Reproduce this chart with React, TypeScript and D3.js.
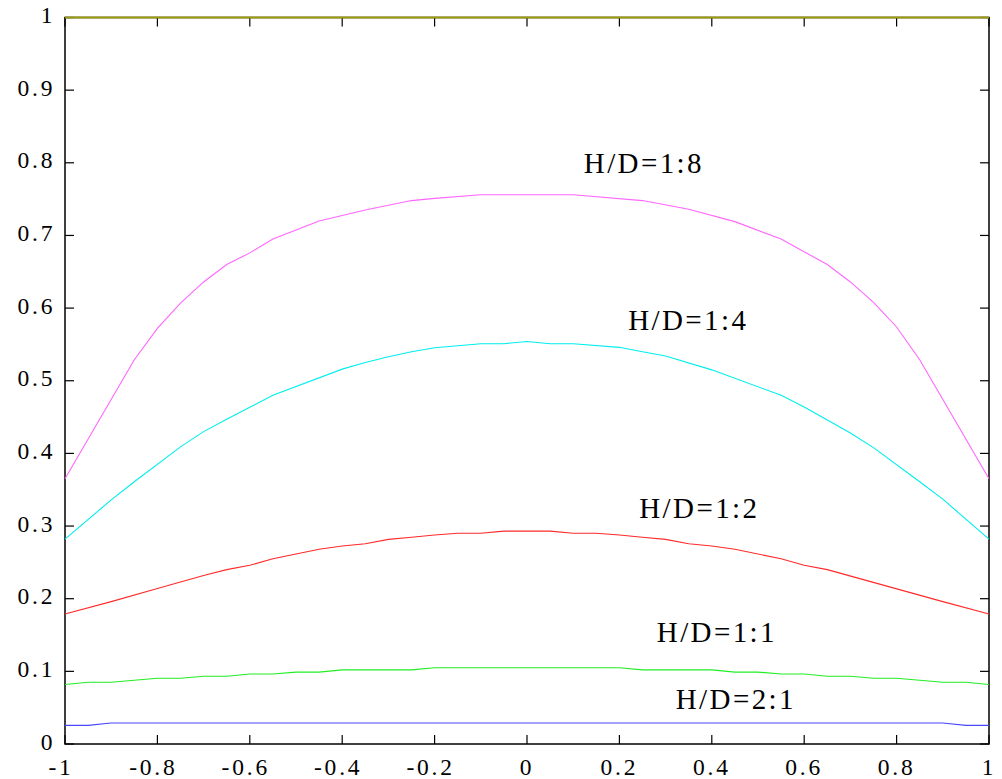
import React, { useEffect } from "react";
import * as d3 from "d3";

const W = 1002;
const H = 779;

const xTicks = [-1, -0.8, -0.6, -0.4, -0.2, 0, 0.2, 0.4, 0.6, 0.8, 1];
const yTicks = [0, 0.1, 0.2, 0.3, 0.4, 0.5, 0.6, 0.7, 0.8, 0.9, 1];
const xTickLabels = ["-1", "-0.8", "-0.6", "-0.4", "-0.2", "0", "0.2", "0.4", "0.6", "0.8", "1"];
const yTickLabels = ["0", "0.1", "0.2", "0.3", "0.4", "0.5", "0.6", "0.7", "0.8", "0.9", "1"];

const seriesNames = ["H/D=1:8", "H/D=1:4", "H/D=1:2", "H/D=1:1", "H/D=2:1", "top"];

const x18 = [-1, -0.85, -0.8, -0.75, -0.7, -0.65, -0.6, -0.55, -0.45, -0.35, -0.25, -0.2, -0.1, 0, 0.1, 0.25, 0.35, 0.45, 0.55, 0.65, 0.7, 0.75, 0.8, 0.85, 1];
const y18 = [0.365, 0.529, 0.572, 0.607, 0.636, 0.66, 0.676, 0.695, 0.72, 0.735, 0.748, 0.751, 0.756, 0.756, 0.756, 0.748, 0.736, 0.719, 0.695, 0.66, 0.636, 0.608, 0.574, 0.529, 0.365];

const x14 = [-1, -0.9, -0.85, -0.75, -0.7, -0.65, -0.6, -0.55, -0.4, -0.35, -0.3, -0.25, -0.2, -0.1, -0.05, 0, 0.05, 0.1, 0.2, 0.25, 0.3, 0.4, 0.55, 0.6, 0.7, 0.75, 0.85, 0.9, 1];
const y14 = [0.282, 0.336, 0.361, 0.409, 0.43, 0.447, 0.4635, 0.48, 0.516, 0.525, 0.533, 0.54, 0.5455, 0.551, 0.551, 0.554, 0.551, 0.551, 0.546, 0.54, 0.534, 0.515, 0.48, 0.464, 0.428, 0.408, 0.361, 0.337, 0.282];

const x12 = [-1, -0.9, -0.8, -0.7, -0.65, -0.6, -0.55, -0.45, -0.4, -0.35, -0.3, -0.25, -0.2, -0.15, -0.1, -0.05, 0, 0.05, 0.1, 0.15, 0.2, 0.25, 0.3, 0.35, 0.4, 0.45, 0.55, 0.6, 0.65, 0.9, 1];
const y12 = [0.179, 0.196, 0.214, 0.232, 0.24, 0.246, 0.255, 0.268, 0.2725, 0.2757, 0.2817, 0.2845, 0.2877, 0.29, 0.29, 0.293, 0.293, 0.293, 0.29, 0.29, 0.2877, 0.2845, 0.2817, 0.2757, 0.2725, 0.268, 0.255, 0.246, 0.24, 0.196, 0.179];

const x11 = [-1, -0.95, -0.9, -0.8, -0.75, -0.7, -0.65, -0.6, -0.55, -0.5, -0.45, -0.4, -0.25, -0.2, 0.2, 0.25, 0.4, 0.45, 0.5, 0.55, 0.6, 0.65, 0.7, 0.75, 0.8, 0.9, 0.95, 1];
const y11 = [0.082, 0.085, 0.085, 0.0904, 0.0904, 0.0932, 0.0932, 0.0963, 0.0963, 0.099, 0.099, 0.102, 0.102, 0.105, 0.105, 0.102, 0.102, 0.099, 0.099, 0.0963, 0.0963, 0.0932, 0.0932, 0.0904, 0.0904, 0.085, 0.085, 0.082];

const x21 = [-1, -0.95, -0.9, 0.9, 0.95, 1];
const y21 = [0.0257, 0.0257, 0.0289, 0.0289, 0.0257, 0.0257];

const xTop = [-1, 1];
const yTop = [1, 1];

const seriesX = [x18, x14, x12, x11, x21, xTop];
const seriesY = [y18, y14, y12, y11, y21, yTop];
const seriesColors = ["#ff66ff", "#00eeee", "#ff2a2a", "#22ee22", "#4848ff", "#9c9c10"];

// label anchor positions (start, baseline) in data coordinates
const labelX = [0.123, 0.219, 0.243, 0.281, 0.322];
const labelY = [0.786, 0.57, 0.311, 0.141, 0.048];

export default function App() {
  useEffect(() => {
    document.body.style.margin = "0";
  }, []);

  const left = 65, right = 989, top = 17.5, bottom = 744;
  const x = d3.scaleLinear().domain([-1, 1]).range([left, right]);
  const y = d3.scaleLinear().domain([0, 1]).range([bottom, top]);
  const line = d3
    .line<[number, number]>()
    .x((d) => x(d[0]))
    .y((d) => y(d[1]));

  const font = "Liberation Serif, Times New Roman, Times, serif";
  const tickLen = 9;

  return (
    <svg width={W} height={H} style={{ display: "block", background: "#fff", fontFamily: font }}>
      <rect x={0} y={0} width={W} height={H} fill="#fff" />
      {/* frame */}
      <rect x={left} y={top} width={right - left} height={bottom - top} fill="none" stroke="#000" strokeWidth={1.5} />
      {/* ticks */}
      {xTicks.map((t, i) => (
        <g key={"xt" + i}>
          <line x1={x(t)} x2={x(t)} y1={bottom} y2={bottom - tickLen} stroke="#000" strokeWidth={1.2} />
          <line x1={x(t)} x2={x(t)} y1={top} y2={top + tickLen} stroke="#000" strokeWidth={1.2} />
          <text
            x={x(t) + (t < 0 ? -4 : 0)}
            y={775}
            textAnchor="middle"
            style={{ fontFamily: font, fontSize: 23.5, letterSpacing: 2.8 }}
            fill="#000"
          >
            {xTickLabels[i]}
          </text>
        </g>
      ))}
      {yTicks.map((t, i) => (
        <g key={"yt" + i}>
          <line x1={left} x2={left + tickLen} y1={y(t)} y2={y(t)} stroke="#000" strokeWidth={1.2} />
          <line x1={right} x2={right - tickLen} y1={y(t)} y2={y(t)} stroke="#000" strokeWidth={1.2} />
          <text
            x={55.3}
            y={y(t) + 5.6}
            textAnchor="end"
            style={{ fontFamily: font, fontSize: 23.5, letterSpacing: 2.8 }}
            fill="#000"
          >
            {yTickLabels[i]}
          </text>
        </g>
      ))}
      {/* series */}
      {seriesX.map((xs, si) => (
        <path
          key={"s" + si}
          d={line(xs.map((v, j) => [v, seriesY[si][j]] as [number, number])) || ""}
          fill="none"
          stroke={seriesColors[si]}
          strokeWidth={si === 5 ? 2 : 1.1}
        />
      ))}
      {/* labels */}
      {labelX.map((lx, i) => (
        <text
          key={"l" + i}
          x={x(lx)}
          y={y(labelY[i])}
          style={{ fontFamily: font, fontSize: 29, letterSpacing: 2.4 }}
          fill="#000"
        >
          {seriesNames[i]}
        </text>
      ))}
    </svg>
  );
}
